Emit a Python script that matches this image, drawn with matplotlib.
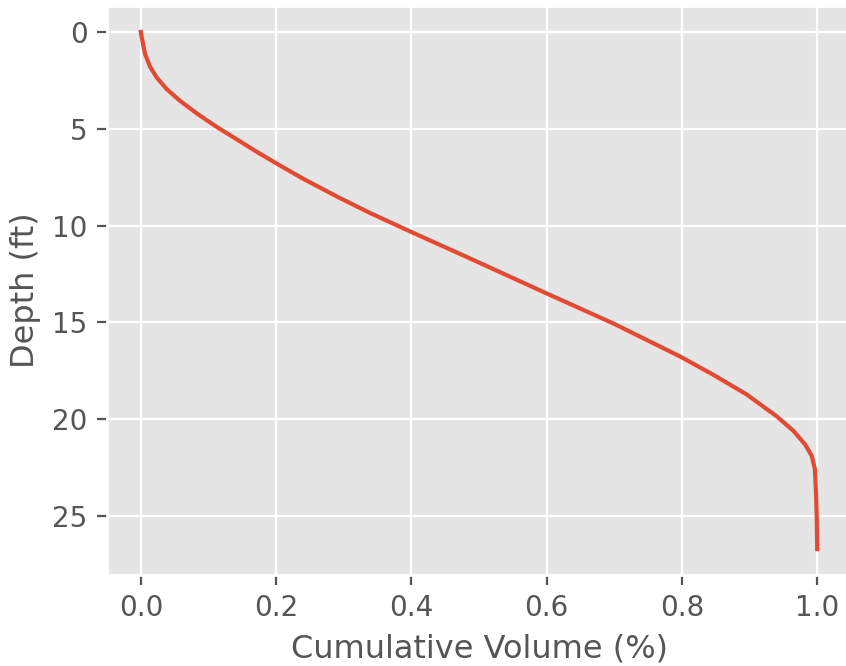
import matplotlib
matplotlib.use("Agg")
import matplotlib.pyplot as plt

plt.style.use("ggplot")

# volume acumulado (fração) e profundidade (ft)
volume = [0.0, 0.0024, 0.0064, 0.0137, 0.0236, 0.0384, 0.058, 0.0828,
          0.112, 0.142, 0.171, 0.201, 0.240, 0.290, 0.339, 0.4, 0.487,
          0.6, 0.698, 0.797, 0.846, 0.896, 0.94, 0.965, 0.982, 0.992,
          0.9966, 0.998, 0.9993, 1.0]
depth = [0.0, 0.48, 1.16, 1.80, 2.36, 2.96, 3.56, 4.21,
         4.90, 5.55, 6.18, 6.80, 7.58, 8.50, 9.35, 10.33, 11.70,
         13.5, 15.04, 16.75, 17.69, 18.72, 19.84, 20.6, 21.29, 21.89,
         22.57, 23.6, 25.0, 26.7]

fig = plt.figure(figsize=(4.23, 3.33), dpi=200)
ax = fig.add_axes([107 / 846, 91 / 666, 744 / 846, 569 / 666])

ax.plot(volume, depth)
ax.invert_yaxis()
ax.set_xlabel("Cumulative Volume (%)", fontsize=11.5)
ax.set_ylabel("Depth (ft)", fontsize=11.5)

fig.savefig("out.png", dpi=200)
